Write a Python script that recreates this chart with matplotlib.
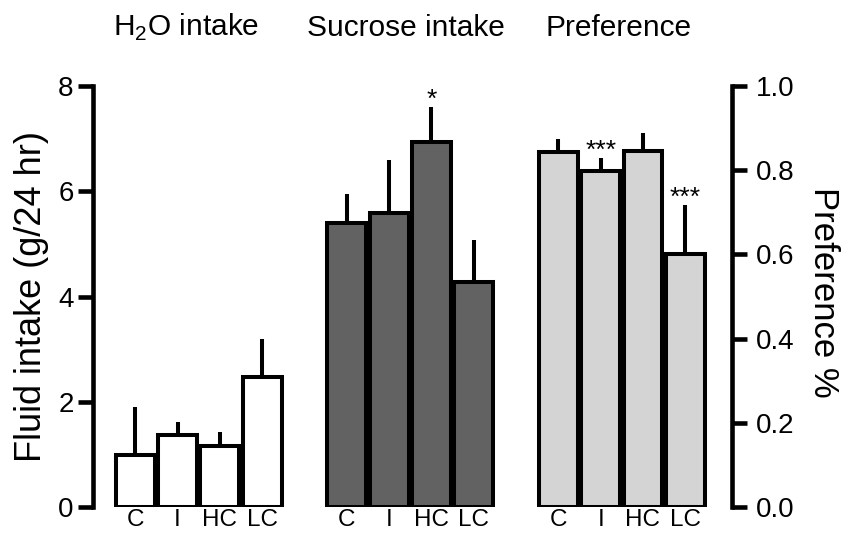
#!/usr/bin/env python3

import numpy as np
import matplotlib
matplotlib.use('Agg')
from matplotlib import pyplot as plt
from matplotlib import transforms

groups = ["C", "I", "HC", "LC"]

water_mean = [0.98, 1.37, 1.16, 2.47]
water_err = [0.92, 0.25, 0.26, 0.72]

sucrose_mean = [5.40, 5.59, 6.94, 4.28]
sucrose_err = [0.55, 1.00, 0.66, 0.80]

pref_mean = [0.843, 0.798, 0.846, 0.601]
pref_err = [0.031, 0.031, 0.042, 0.116]

sucrose_sig = ["", "", "*", ""]
pref_sig = ["", "***", "", "***"]

titles = [r"H$_\mathrm{2}$O intake", "Sucrose intake", "Preference"]


def main():
    plt.rcParams['font.family'] = ['Liberation Sans', 'DejaVu Sans']
    plt.rcParams['mathtext.fontset'] = 'custom'
    plt.rcParams['mathtext.rm'] = 'Liberation Sans'

    fig = plt.figure(figsize=(8.49, 5.38), dpi=100)
    ax = fig.add_axes([0.1095, 0.0576, 0.7525, 0.7824])
    ax2 = ax.twinx()

    x_water = np.arange(4)
    x_suc = np.arange(4) + 5
    x_pref = np.arange(4) + 10
    width = 0.92
    lw = 2.9

    ax.bar(x_water, water_mean, width, color='white', edgecolor='black', linewidth=lw, zorder=3)
    ax.errorbar(x_water, water_mean, yerr=[np.zeros(4), water_err], fmt='none',
                ecolor='black', elinewidth=lw, capsize=0, zorder=2)

    ax.bar(x_suc, sucrose_mean, width, color='#626262', edgecolor='black', linewidth=lw, zorder=3)
    ax.errorbar(x_suc, sucrose_mean, yerr=[np.zeros(4), sucrose_err], fmt='none',
                ecolor='black', elinewidth=lw, capsize=0, zorder=2)

    ax2.bar(x_pref, pref_mean, width, color='#d4d4d4', edgecolor='black', linewidth=lw, zorder=3)
    ax2.errorbar(x_pref, pref_mean, yerr=[np.zeros(4), pref_err], fmt='none',
                 ecolor='black', elinewidth=lw, capsize=0, zorder=2)

    # significance stars
    for xi, m, e, s in zip(x_suc, sucrose_mean, sucrose_err, sucrose_sig):
        if s:
            ax.annotate(s, (xi, m + e), xytext=(0, 0), textcoords='offset points',
                        ha='center', va='baseline', fontsize=19)
    for xi, m, e, s in zip(x_pref, pref_mean, pref_err, pref_sig):
        if s:
            ax2.annotate(s, (xi, m + e), xytext=(0, 0), textcoords='offset points',
                         ha='center', va='baseline', fontsize=19)

    ax.set_xlim(-1.0, 14.1)
    ax.set_ylim(0, 8)
    ax2.set_ylim(0, 1.0)
    ax.set_yticks([0, 2, 4, 6, 8])
    ax2.set_yticks([0.0, 0.2, 0.4, 0.6, 0.8, 1.0])
    ax2.set_yticklabels(["0.0", "0.2", "0.4", "0.6", "0.8", "1.0"])

    xs = np.concatenate([x_water, x_suc, x_pref])
    ax.set_xticks(xs)
    ax.set_xticklabels(groups * 3, fontsize=17.5)
    ax.tick_params(axis='x', length=0, pad=1.5)

    for a in (ax, ax2):
        a.spines['top'].set_visible(False)
        a.spines['bottom'].set_visible(False)
        a.spines['left'].set_linewidth(3.3)
        a.spines['right'].set_linewidth(3.3)
    ax.spines['right'].set_visible(False)
    ax2.spines['left'].set_visible(False)

    ax.tick_params(axis='y', length=11, width=3.3, labelsize=20, pad=3)
    ax2.tick_params(axis='y', length=11, width=3.3, labelsize=20, pad=6)

    ax.set_ylabel("Fluid intake (g/24 hr)", fontsize=26)
    ax.yaxis.set_label_coords(-0.069, 0.5)
    ax2.set_ylabel("Preference %", fontsize=25, rotation=270)
    ax2.yaxis.set_label_coords(1.169, 0.51)

    trans = transforms.blended_transform_factory(ax.transData, fig.transFigure)
    for tx, t in zip([1.2, 6.4, 11.42], titles):
        ax.text(tx, 0.933, t, transform=trans, ha='center', va='baseline', fontsize=21.5)

    plt.savefig('out.png', dpi=100)


if __name__ == "__main__":
    main()
